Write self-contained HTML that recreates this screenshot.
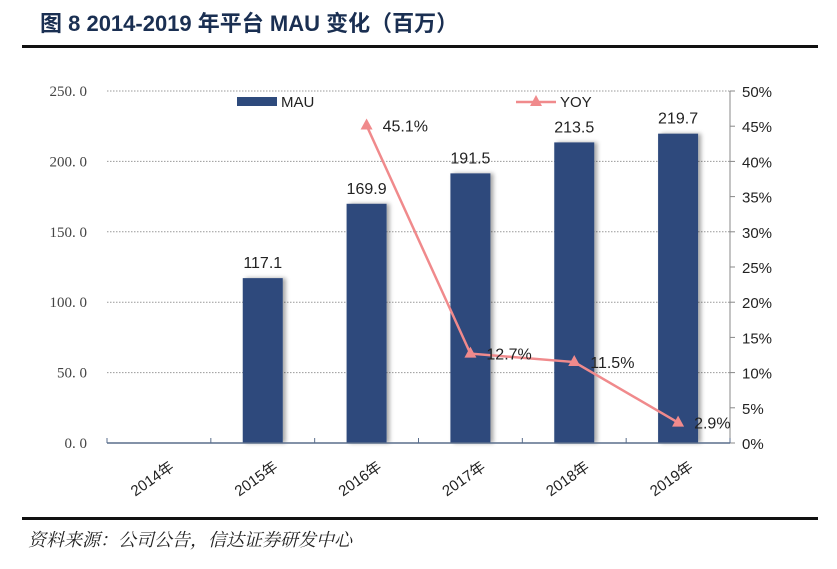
<!DOCTYPE html>
<html><head><meta charset="utf-8"><style>
body{margin:0;background:#fff;width:837px;height:564px;overflow:hidden;font-family:"Liberation Sans","Noto Sans CJK SC",sans-serif}
</style></head><body>
<svg width="837" height="564" xmlns="http://www.w3.org/2000/svg">
<defs><filter id="sh" x="-20%" y="-5%" width="150%" height="110%"><feDropShadow dx="3" dy="0" stdDeviation="2" flood-color="#000" flood-opacity="0.35"/></filter></defs>
<text x="40" y="31" font-size="22" font-weight="bold" fill="#1a2f52" font-family="'Liberation Sans','Noto Sans CJK SC',sans-serif">图 8 2014-2019 年平台 MAU 变化（百万）</text>
<rect x="22" y="45" width="796" height="3" fill="#111"/>
<rect x="22" y="517" width="796" height="3" fill="#111"/>
<text x="28" y="546" font-size="18" font-style="italic" fill="#222" font-family="'Noto Serif CJK SC','Noto Sans CJK SC',serif">资料来源：公司公告，信达证券研发中心</text>
<g id="plot"></g>
</svg>
<script>
const categories=["2014年","2015年","2016年","2017年","2018年","2019年"];
const mauValues=[null,117.1,169.9,191.5,213.5,219.7];
const yoyValues=[null,null,45.1,12.7,11.5,2.9];
const leftTicks=[0,50,100,150,200,250];
const rightTicks=[0,5,10,15,20,25,30,35,40,45,50];

const ns="http://www.w3.org/2000/svg";
const g=document.getElementById('plot');
const X0=107,X1=730,Y0=443,Y1=91;
const bw=(X1-X0)/categories.length;
const xc=i=>X0+bw*(i+0.5);
const yL=v=>Y0-(v/250)*(Y0-Y1);
const yR=v=>Y0-(v/50)*(Y0-Y1);
function mk(t,a,txt){const e=document.createElementNS(ns,t);for(const k in a)e.setAttribute(k,a[k]);if(txt!=null)e.textContent=txt;g.appendChild(e);return e;}

leftTicks.forEach(v=>{
  if(v>0){const l=mk('line',{x1:X0,x2:X1,y1:yL(v),y2:yL(v),stroke:'#999','stroke-dasharray':'1.5,1.5'});
  
  }
  const t=mk('text',{x:87,y:yL(v)+5,'text-anchor':'end','font-size':15,fill:'#444','font-family':"'Liberation Serif',serif"},v.toFixed(1).replace('.','. '));
  
  
});
const ra=mk('line',{x1:X1,x2:X1,y1:Y1,y2:Y0,stroke:'#888'});


rightTicks.forEach(v=>{
  mk('line',{x1:X1,x2:X1+5,y1:yR(v),y2:yR(v),stroke:'#888'});
  const t=mk('text',{x:742,y:yR(v)+6,'font-size':15,fill:'#222'},v+'%');
  
  
});
categories.forEach((c,i)=>{
  const t=mk('text',{x:0,y:0,'font-size':15,fill:'#222','text-anchor':'end',transform:`translate(${xc(i)+16},${Y0+26}) rotate(-35)`},c);
  
  
  if(mauValues[i]!=null){
    const b=mk('rect',{x:xc(i)-20,y:yL(mauValues[i]),width:40,height:Y0-yL(mauValues[i]),fill:'#2e4a7c',filter:'url(#sh)'});
    
    
    const lb=mk('text',{x:xc(i),y:yL(mauValues[i])-10,'text-anchor':'middle','font-size':16,fill:'#222'},mauValues[i].toFixed(1));
    
    
  }
});
const xa=mk('line',{x1:X0,x2:X1,y1:Y0,y2:Y0,stroke:'#5a6e8c','stroke-width':1.5});


for(let i=0;i<=categories.length;i++)mk('line',{x1:X0+bw*i,x2:X0+bw*i,y1:Y0,y2:Y0-5,stroke:'#5a6e8c'});
let pts=[];yoyValues.forEach((v,i)=>{if(v!=null)pts.push([xc(i),yR(v)]);});
const pl=mk('polyline',{points:pts.map(p=>p.join(',')).join(' '),fill:'none',stroke:'#f08a8c','stroke-width':2.5});


yoyValues.forEach((v,i)=>{if(v==null)return;const x=xc(i),y=yR(v);
  const m=mk('polygon',{points:`${x},${y-7} ${x-6},${y+4} ${x+6},${y+4}`,fill:'#f08a8c'});
  
  
  const t=mk('text',{x:x+16,y:y+6,'font-size':16,fill:'#222'},v.toFixed(1)+'%');
  
  
});
const lr=mk('rect',{x:237,y:97,width:40,height:9,fill:'#2e4a7c'});


const lt=mk('text',{x:281,y:107,'font-size':15,fill:'#222'},'MAU');


mk('line',{x1:516,x2:556,y1:102,y2:102,stroke:'#f08a8c','stroke-width':2.5});
mk('polygon',{points:'536,95 530,106 542,106',fill:'#f08a8c'});
const ly=mk('text',{x:560,y:107,'font-size':15,fill:'#222'},'YOY');


</script>
</body></html>
